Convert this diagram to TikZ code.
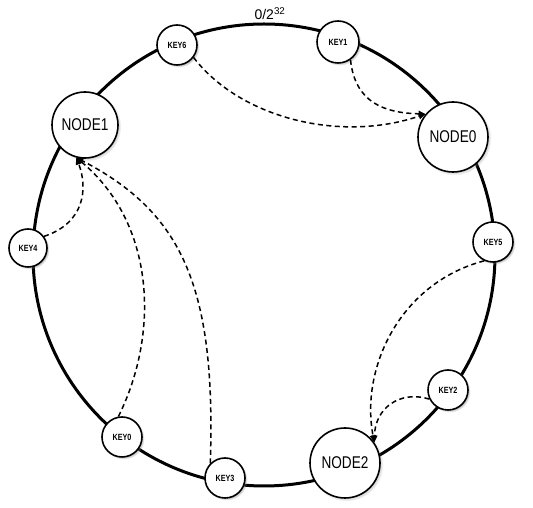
\documentclass[tikz,border=0pt]{standalone}
\usepackage{fontspec}
\newfontfamily\lab{Liberation Sans}
\usetikzlibrary{arrows.meta,shadows}
\begin{document}
\begin{tikzpicture}[x=1pt,y=1pt,
  ring/.style={line width=3pt},
  nd/.style={circle,draw,line width=1.6pt,fill=white,inner sep=0pt,
    circular drop shadow={shadow scale=1.05,shadow xshift=1.5pt,shadow yshift=-1.5pt,opacity=0.5}},
  bignode/.style={nd,minimum size=68pt,font=\lab\fontsize{17}{17}\selectfont},
  keynode/.style={nd,minimum size=40pt,font=\lab\bfseries\fontsize{9}{9}\selectfont},
  link/.style={dash pattern=on 5pt off 3.5pt,line width=1.5pt,-{Triangle[length=7pt,width=6pt]}}]
\useasboundingbox (0,0) rectangle (533,508);
\draw[ring] (264,253) circle[radius=231pt];
\node (top) at (270,494) {\lab\fontsize{14}{14}\selectfont 0/2\textsuperscript{32}};
\node[keynode] (k6) at (177,463) {\scalebox{0.8}[1]{KEY6}};
\node[keynode,minimum size=42pt] (k1) at (338,466) {\scalebox{0.8}[1]{KEY1}};
\node[bignode,minimum size=66pt] (n1) at (85,383) {\scalebox{0.8}[1]{NODE1}};
\node[bignode,minimum size=70pt] (n0) at (453,371) {\scalebox{0.8}[1]{NODE0}};
\node[keynode,minimum size=38pt] (k4) at (28,260) {\scalebox{0.8}[1]{KEY4}};
\node[keynode] (k5) at (493,266) {\scalebox{0.8}[1]{KEY5}};
\node[keynode] (k2) at (448,118) {\scalebox{0.8}[1]{KEY2}};
\node[bignode,minimum size=70pt] (n2) at (345,45) {\scalebox{0.8}[1]{NODE2}};
\node[keynode] (k0) at (122,71) {\scalebox{0.8}[1]{KEY0}};
\node[keynode] (k3) at (225,30) {\scalebox{0.8}[1]{KEY3}};
% connectors
\draw[link] (k1.-55) .. controls (355,405) and (385,395) .. (n0.140);
\draw[link] (k6.-37) .. controls (240,390) and (340,365) .. (n0.140);
\draw[link] (k4.36) .. controls (85,285) and (88,320) .. (n1.-105);
\draw[link] (k0.100) .. controls (160,175) and (155,285) .. (n1.-105);
\draw[link] (k3.135) .. controls (216,220) and (183,295) .. (n1.-105);
\draw[link] (k5.-115) .. controls (400,225) and (360,140) .. (n2.35);
\draw[link] (k2.206) .. controls (400,118) and (375,100) .. (n2.35);
\end{tikzpicture}
\end{document}
